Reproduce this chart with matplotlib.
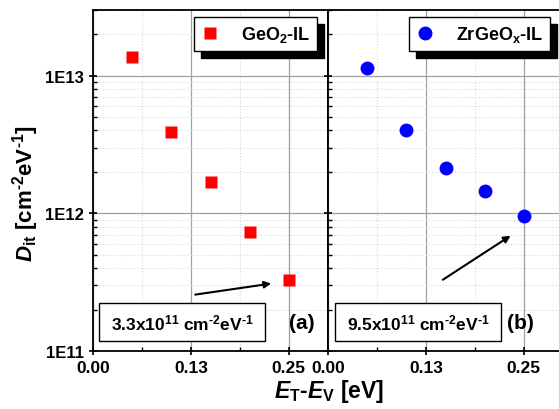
import matplotlib
matplotlib.use("Agg")
import matplotlib.pyplot as plt
from matplotlib.patches import Rectangle
from matplotlib.ticker import FixedLocator, FixedFormatter

plt.rcParams['font.family'] = ['Liberation Sans', 'DejaVu Sans']
plt.rcParams['font.weight'] = 'bold'
plt.rcParams['mathtext.fontset'] = 'custom'
plt.rcParams['mathtext.rm'] = 'Liberation Sans:bold'
plt.rcParams['mathtext.bf'] = 'Liberation Sans:bold'
plt.rcParams['mathtext.it'] = 'Liberation Sans:italic:bold'
plt.rcParams['mathtext.default'] = 'bf'

# data
energy = [0.05, 0.10, 0.15, 0.20, 0.25]
dit_geo2 = [1.37e13, 3.93e12, 1.68e12, 7.3e11, 3.3e11]
dit_zrgeox = [1.14e13, 4.06e12, 2.15e12, 1.45e12, 9.5e11]
xticks = [0.0, 0.125, 0.25]
xticklabels = ['0.00', '0.13', '0.25']
yticks = [1e11, 1e12, 1e13]
yticklabels = ['1E11', '1E12', '1E13']

fig = plt.figure(figsize=(5.59, 4.10), dpi=100)
axL = fig.add_axes([0.1664, 0.1415, 0.4204, 0.8317])
axR = fig.add_axes([0.5868, 0.1415, 0.4204, 0.8317])


def style(ax, show_y):
    ax.set_yscale('log')
    ax.set_xlim(0, 0.3)
    ax.set_ylim(1e11, 3e13)
    ax.xaxis.set_major_locator(FixedLocator(xticks))
    ax.xaxis.set_major_formatter(FixedFormatter(xticklabels))
    ax.xaxis.set_minor_locator(FixedLocator([0.0625, 0.1875]))
    ax.yaxis.set_major_locator(FixedLocator(yticks))
    ax.yaxis.set_major_formatter(FixedFormatter(yticklabels if show_y else ['', '', '']))
    ax.grid(True, which='major', color='#a0a0a0', lw=0.9, ls='-')
    ax.grid(True, which='minor', color='#d8d8d8', lw=0.8, ls=':')
    ax.tick_params(which='major', direction='inout', length=6, width=1.2)
    ax.tick_params(axis='x', labelsize=12.5)
    ax.tick_params(axis='y', labelsize=12)
    ax.tick_params(which='minor', direction='in', length=3, width=1.0)
    for s in ax.spines.values():
        s.set_linewidth(1.3)
    ax.set_axisbelow(True)


style(axL, True)
style(axR, False)

axL.plot(energy, dit_geo2, 's', color='#ff0000', ms=8, mec='none', label=r'GeO$_2$-IL')
axR.plot(energy, dit_zrgeox, 'o', color='#0000ff', ms=10, mec='none', label=r'ZrGeO$_x$-IL')

for ax, anchor in [(axL, (0.955, 0.98)), (axR, (0.945, 0.98))]:
    leg = ax.legend(loc='upper right', bbox_to_anchor=anchor, fontsize=13,
                    frameon=True, fancybox=False, borderaxespad=0, handlelength=1.0,
                    handletextpad=1.2, borderpad=0.4,
                    shadow={'color': 'k', 'alpha': 1, 'ox': 5, 'oy': -5})
    leg.get_frame().set_edgecolor('k')
    leg.get_frame().set_linewidth(1.0)
    leg.get_frame().set_alpha(1)

for ax, txt, lbl, lx, bx in [(axL, r'3.3x10$^{11}$ cm$^{\text{-2}}$eV$^{\text{-1}}$', '(a)', 0.889, 0.026),
                             (axR, r'9.5x10$^{11}$ cm$^{\text{-2}}$eV$^{\text{-1}}$', '(b)', 0.817, 0.03)]:
    ax.add_patch(Rectangle((bx, 0.029), 0.704, 0.111, transform=ax.transAxes,
                           fill=True, fc='white', ec='k', lw=1.0, zorder=5))
    ax.text(bx + 0.352, 0.085, txt, transform=ax.transAxes, ha='center', va='center',
            fontsize=12.5, zorder=6)
    ax.text(lx, 0.085, lbl, transform=ax.transAxes, ha='center', va='center',
            fontsize=15, zorder=6)

# arrows pointing at the last point of each series
axL.annotate('', xy=(0.231, 3.11e11), xytext=(0.127, 2.55e11),
             arrowprops=dict(arrowstyle='-|>', color='k', lw=1.5, mutation_scale=10))
axR.annotate('', xy=(0.236, 7.05e11), xytext=(0.1436, 3.21e11),
             arrowprops=dict(arrowstyle='-|>', color='k', lw=1.5, mutation_scale=10))

fig.text(0.045, 0.527, r'$\mathit{D}_{it}$ [cm$^{\text{-2}}$eV$^{\text{-1}}$]', rotation=90,
         ha='center', va='center', fontsize=16)
fig.text(0.589, 0.044, r'$\mathit{E}_T$-$\mathit{E}_V$ [eV]', ha='center', va='center',
         fontsize=16.5)

fig.savefig('out.png', dpi=100)
